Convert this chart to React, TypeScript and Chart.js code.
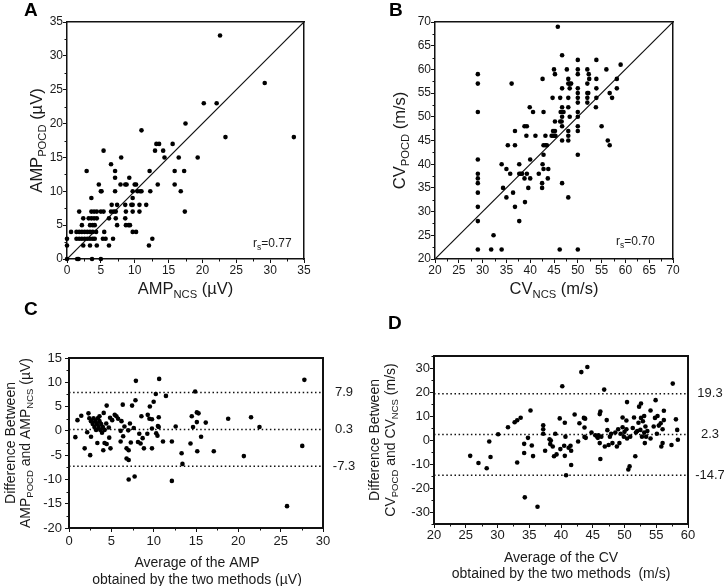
import React, { useEffect, useRef } from 'react';
import { Chart, registerables } from 'chart.js';
Chart.register(...registerables);

const FONT = '"Liberation Sans", Arial, Helvetica, sans-serif';
const W = 724;
const H = 586;

// ---------------- DATA ----------------
// Panel A: [AMP_NCS, AMP_POCD] (µV)
const ampPairs: number[][] = [
  [0, 0], [0, 2], [0, 3], [0.6, 4], [1.5, 0], [1.7, 0], [3.7, 0], [5.0, 0],
  [2.4, 2], [3.4, 2], [4.4, 2], [6.2, 2], [12.1, 2],
  [1.4, 3], [1.8, 3], [2.2, 3], [2.6, 3], [3.0, 3], [3.4, 3], [3.8, 3], [4.1, 3], [5.3, 3], [5.7, 3], [6.8, 3], [12.6, 3],
  [1.4, 4], [1.8, 4], [2.2, 4], [2.6, 4], [3.0, 4], [3.4, 4], [3.8, 4], [4.3, 4], [5.5, 4], [9.7, 4], [10.2, 4],
  [2.2, 5], [3.4, 5], [3.8, 5], [4.1, 5], [7.4, 5], [8.7, 5], [9.1, 5], [9.3, 5],
  [2.4, 6], [3.2, 6], [3.6, 6], [4.0, 6], [4.4, 6], [6.2, 6], [7.2, 6], [8.6, 6],
  [1.8, 7], [3.6, 7], [4.0, 7], [4.4, 7], [5.0, 7], [5.4, 7], [6.5, 7], [6.9, 7], [7.2, 7], [8.7, 7], [9.7, 7], [10.7, 7], [17.4, 7],
  [6.6, 8], [7.4, 8], [8.6, 8], [9.5, 8], [9.7, 8], [10.7, 8], [11.7, 8],
  [3.6, 9], [9.7, 9],
  [5.0, 10], [5.1, 10], [7.1, 10], [9.7, 10], [10.4, 10], [10.8, 10], [11.0, 10], [12.3, 10], [16.8, 10],
  [4.7, 11], [7.9, 11], [8.6, 11], [8.8, 11], [10.0, 11], [10.2, 11], [13.4, 11], [15.9, 11],
  [7.1, 12], [9.2, 12],
  [2.9, 13], [7.1, 13], [12.2, 13], [15.9, 13], [17.3, 13],
  [6.5, 14],
  [8.0, 15], [14.4, 15], [16.5, 15], [19.3, 15],
  [5.4, 16], [13.0, 16], [14.2, 16],
  [13.2, 17], [13.6, 17], [15.6, 17],
  [23.4, 18], [33.5, 18], [11.0, 19], [17.5, 20], [20.2, 23], [22.1, 23], [29.2, 26], [22.6, 33],
];

// Panel B: [CV_NCS, CV_POCD] (m/s)
const cvPairs: number[][] = [
  [29, 59], [29, 57], [29, 51], [29, 41], [29, 38], [29, 37], [29, 36], [29, 34], [29, 31], [29, 28], [29, 22],
  [31.8, 22], [32.3, 25], [34, 22], [34, 40], [34.3, 35], [35, 33], [35, 39], [35.3, 44], [35.8, 38], [36.1, 57],
  [36.4, 34], [36.8, 31], [36.8, 47], [36.8, 44], [37.7, 40], [37.7, 38], [38, 38], [38.3, 38], [37.7, 28],
  [38.8, 37], [38.9, 32], [38.8, 48], [39.3, 48], [39.2, 46], [39.3, 38], [39.6, 35], [40, 41], [40, 37],
  [39.9, 52], [40.6, 51], [41.1, 46], [41.8, 38], [42.5, 36], [42.5, 35], [42.6, 40], [42.8, 39], [42.6, 58],
  [42.8, 51], [42.8, 42], [42.8, 44], [43.2, 44], [43.5, 44], [43.2, 46], [43.8, 39], [43.7, 37], [44.5, 46],
  [44.8, 46], [45.1, 46], [44.7, 54], [44.8, 47], [45.2, 47], [45, 60], [45.2, 59], [45.2, 49], [45.3, 46],
  [45.8, 69], [46.3, 54], [46.2, 22], [46.3, 49], [46.6, 49], [46.4, 51], [46.7, 51], [46.7, 52], [46.7, 63],
  [46.7, 56], [46.7, 50], [46.7, 48], [46.7, 45], [46.7, 36], [47, 51], [47.7, 60], [48, 58], [48, 57],
  [48.3, 57], [48.6, 57], [48, 54], [48, 52], [48.3, 50], [48, 47], [48, 46], [48, 45], [48, 33], [48.3, 56],
  [50, 62], [50, 60], [50, 59], [50, 56], [50, 55], [50, 54], [50, 53], [50, 51], [50, 50], [50, 48], [50, 47],
  [50, 42], [50, 22],
  [52, 60], [52.3, 59], [52.4, 58], [52, 57], [52, 55], [52.2, 55], [52, 54], [52, 53],
  [53.9, 62], [53.9, 58], [53.9, 56], [53.9, 54], [53.8, 52], [55, 48], [56, 60], [56.3, 45], [56.7, 55],
  [56.7, 44], [57.2, 54], [58.2, 58], [58.2, 56], [59, 61],
];

// Panel C: [average AMP, difference AMP] (µV)
const ampBland: number[][] = [
  [0.75, -1.3], [1.0, 2.2], [1.45, 3.1], [1.85, -3.6], [2.15, -0.3], [2.3, 3.6], [2.5, -5.0], [2.6, -1.2],
  [2.4, 2.6], [2.6, 2.0], [2.8, 1.4], [3.0, 0.8], [3.2, 0.2],
  [2.9, 2.6], [3.1, 2.0], [3.3, 1.4], [3.5, 0.8], [3.7, 0.2], [3.9, -0.4],
  [3.4, 2.6], [3.6, 2.0], [3.8, 1.4], [4.0, 0.8], [4.2, 0.2],
  [3.35, -2.5], [3.6, 3.0], [4.1, 3.7], [4.45, 5.2], [4.4, 1.5], [4.2, -2.5], [4.05, -4.0], [4.7, 0.7],
  [4.45, -2.7], [4.75, -1.4], [4.9, -3.6], [4.85, 2.7], [5.1, 2.2], [5.4, 3.3], [5.6, 3.0], [5.8, 2.5],
  [6.35, 5.4], [6.2, 2.0], [6.1, 0.0], [6.1, -2.2], [6.55, 0.9], [6.4, -1.1], [6.8, -3.6], [7.05, -4.0],
  [6.8, -5.7], [7.05, -6.0], [7.05, -10.0], [7.0, 0.1], [7.2, 1.5], [7.45, 5.2], [7.85, 6.3], [7.9, 10.3],
  [7.75, -9.4], [7.3, -2.4], [7.65, 0.6], [8.15, -2.3], [8.55, 3.0], [8.3, -0.6], [8.45, -2.6], [8.7, -1.5],
  [8.85, -3.6], [9.25, -0.6], [9.3, 3.3], [9.55, 5.0], [9.5, 2.5], [9.8, 2.4], [9.8, 0.5], [9.8, -3.6],
  [10.0, 6.0], [10.25, 7.6], [10.3, -0.5], [10.45, -1.0], [10.6, 2.8], [10.65, 10.7], [10.5, 1.0], [10.6, 0.8],
  [11.1, -2.2], [11.45, 7.2], [12.15, -2.2], [12.6, 0.9], [12.15, -10.3], [13.3, -4.6], [13.4, -6.8],
  [14.35, -2.6], [14.5, 3.0], [14.65, 0.8], [14.9, 8.1], [15.1, 3.8], [15.3, 3.6], [15.1, 1.8], [15.15, -4.2],
  [15.6, -1.2], [16.15, 1.7], [17.1, -4.2], [18.8, 2.5], [20.65, -5.2], [21.5, 2.8], [22.5, 0.8],
  [25.75, -15.5], [27.55, -3.1], [27.8, 10.5],
];

// Panel D: [average CV, difference CV] (m/s)
const cvBland: number[][] = [
  [25.7, -6.6], [27.0, -9.6], [28.3, -11.8], [28.7, -0.6], [28.9, -7.1], [30.1, 2.4], [31.65, 5.3], [32.7, 7.4],
  [33.1, 8.2], [33.65, 9.3], [33.1, -9.4], [34.2, -1.6], [34.2, -5.4], [34.3, -23.9], [34.8, 0.9], [35.2, 12.3],
  [35.4, -2.3], [35.6, -6.7], [36.3, -27.8], [37.2, 2.6], [37.2, 4.5], [37.2, 6.1], [37.5, -4.5], [38.2, 0.3],
  [38.4, -0.2], [38.3, -1.7], [38.7, -2.7], [38.9, -6.8], [39.3, -6.0], [39.1, 2.6], [39.8, 9.0], [39.9, -3.8],
  [40.2, 22.4], [40.5, -2.4], [40.6, -6.6], [40.6, 7.2], [40.7, 1.4], [40.8, -14.7], [41.2, -3.2], [41.5, -2.4],
  [41.6, -4.5], [41.6, -10.4], [42.15, 10.6], [42.7, -0.6], [42.9, 7.0], [43.2, 28.3], [43.6, 9.2], [43.8, 8.9],
  [43.7, 5.2], [43.7, 1.3], [43.9, 0.9], [44.15, 30.4], [44.8, 3.1], [45.4, 2.0], [45.7, 1.4], [45.8, 0.9],
  [45.9, 2.0], [46.1, 10.8], [46.2, 11.9], [46.1, -1.3], [46.2, -7.9], [46.35, 1.4], [46.8, 21.0], [46.9, -2.7],
  [47.2, 8.3], [47.3, 4.1], [47.5, -2.1], [47.7, 1.4], [47.9, 2.6], [48.1, -1.3], [48.55, 3.1], [48.8, -2.7],
  [49.0, 4.5], [49.2, -1.3], [49.4, 2.6], [49.7, 5.3], [49.7, 9.4], [49.9, 1.4], [50.0, 3.4], [50.3, 4.5],
  [50.4, 15.8], [50.3, 8.1], [50.4, 0.6], [50.6, -12.3], [50.8, -11.0], [50.9, 1.4], [51.3, 5.0], [51.5, 9.4],
  [51.7, -6.8], [51.8, 3.1], [52.0, 3.7], [52.2, 7.2], [52.3, 13.9], [52.6, 15.2], [52.5, 4.2], [52.6, 9.2],
  [52.75, 1.4], [52.9, 7.8], [53.1, 3.1], [53.1, 10.0], [53.2, -1.3], [53.3, 5.6], [53.4, 1.4], [53.6, 3.7],
  [54.1, 0.6], [54.1, 12.3], [54.6, 5.6], [54.8, 9.2], [54.9, 16.6], [55.1, 2.6], [55.2, 10.0], [55.4, 6.0],
  [55.7, 7.0], [55.8, -2.7], [56.0, -1.3], [56.0, 4.5], [56.2, 12.2], [56.2, 8.3], [57.4, -2.1], [57.6, 23.5],
  [58.1, 8.6], [58.3, 4.2], [58.4, 0.1],
];

const ampTicks = [0, 5, 10, 15, 20, 25, 30, 35];
const cvTicks = [20, 25, 30, 35, 40, 45, 50, 55, 60, 65, 70];
const ampAvgTicks = [0, 5, 10, 15, 20, 25, 30];
const ampDiffTicks = [-20, -15, -10, -5, 0, 5, 10, 15];
const cvAvgTicks = [20, 25, 30, 35, 40, 45, 50, 55, 60];
const cvDiffTicks = [-30, -20, -10, 0, 10, 20, 30];
const ampLimits = [7.9, 0.3, -7.3];
const cvLimits = [19.3, 2.3, -14.7];
const rsAmp = '0.77';
const rsCv = '0.70';

// ---------------- LAYOUT ----------------
type Seg = [string, boolean?];
interface Panel {
  pts: number[][];
  xr: [number, number];
  yr: [number, number];
  xt: number[];
  yt: number[];
  area: [number, number, number, number];
  tickSize: number;
  yPad: number;
  xPad: number;
  frameW: number;
  letter: string;
  letterAt: [number, number];
  xTitle: Seg[][];
  xTitleAt: [number, number[]];
  yTitle: Seg[][];
  yTitleAt: [number, number[]];
  titleSize: number;
  identity?: boolean;
  limits?: number[];
  limitX?: number;
  rs?: string;
  rsAt?: [number, number];
}

const panels: Panel[] = [
  {
    pts: ampPairs, xr: [0, 35], yr: [0, 35], xt: ampTicks, yt: ampTicks,
    area: [67, 22, 304, 259], tickSize: 12, yPad: 0, xPad: 0, frameW: 1.5,
    letter: 'A', letterAt: [24, 16],
    xTitle: [[['AMP'], ['NCS', true], [' (µV)']]], xTitleAt: [185.5, [294]],
    yTitle: [[['AMP'], ['POCD', true], [' (µV)']]], yTitleAt: [140.5, [42]],
    titleSize: 16.5, identity: true, rs: rsAmp, rsAt: [253, 246.5],
  },
  {
    pts: cvPairs, xr: [20, 70], yr: [20, 70], xt: cvTicks, yt: cvTicks,
    area: [435, 22, 673, 259], tickSize: 12, yPad: 0, xPad: 0, frameW: 1.5,
    letter: 'B', letterAt: [389, 16],
    xTitle: [[['CV'], ['NCS', true], [' (m/s)']]], xTitleAt: [554, [294]],
    yTitle: [[['CV'], ['POCD', true], [' (m/s)']]], yTitleAt: [140.5, [405]],
    titleSize: 16.5, identity: true, rs: rsCv, rsAt: [616, 244.5],
  },
  {
    pts: ampBland, xr: [0, 30], yr: [-20, 15], xt: ampAvgTicks, yt: ampDiffTicks,
    area: [69, 358, 323, 528], tickSize: 13, yPad: 3, xPad: 2, frameW: 2,
    letter: 'C', letterAt: [24, 315],
    xTitle: [[['Average of the AMP']], [['obtained by the two methods (µV)']]], xTitleAt: [197, [567, 584]],
    yTitle: [[['Difference Between']], [['AMP'], ['POCD', true], [' and AMP'], ['NCS', true], [' (µV)']]],
    yTitleAt: [443, [14.5, 30]],
    titleSize: 14, limits: ampLimits, limitX: 344,
  },
  {
    pts: cvBland, xr: [20, 60], yr: [-35, 35], xt: cvAvgTicks, yt: cvDiffTicks,
    area: [434, 356, 688, 524], tickSize: 13, yPad: 0, xPad: 0, frameW: 2,
    letter: 'D', letterAt: [388, 329],
    xTitle: [[['Average of the CV']], [['obtained by the two methods  (m/s)']]], xTitleAt: [561, [562, 578]],
    yTitle: [[['Difference Between']], [['CV'], ['POCD', true], [' and CV'], ['NCS', true], [' (m/s)']]],
    yTitleAt: [440, [379, 395]],
    titleSize: 14, limits: cvLimits, limitX: 710,
  },
];

const TEXT = '#1a1a1a';
const LINE = '#111';

function drawRich(ctx: CanvasRenderingContext2D, segs: Seg[], x: number, y: number, size: number) {
  let w = 0;
  for (const [t, sub] of segs) {
    ctx.font = `${sub ? size * 0.68 : size}px ${FONT}`;
    w += ctx.measureText(t).width;
  }
  let cx = x - w / 2;
  ctx.textAlign = 'left';
  ctx.textBaseline = 'alphabetic';
  for (const [t, sub] of segs) {
    ctx.font = `${sub ? size * 0.68 : size}px ${FONT}`;
    ctx.fillText(t, cx, sub ? y + size * 0.24 : y);
    cx += ctx.measureText(t).width;
  }
}

function makeChart(canvas: HTMLCanvasElement, p: Panel) {
  const [L, T, R, B] = p.area;
  const YW = 40;
  const XH = 30;
  const datasets: any[] = [
    {
      data: p.pts.map(([x, y]) => ({ x, y })),
      pointRadius: 2.3,
      pointBackgroundColor: '#000',
      pointBorderColor: '#000',
      pointBorderWidth: 0,
      showLine: false,
      clip: false,
    },
  ];
  if (p.identity) {
    datasets.push({
      data: [{ x: p.xr[0], y: p.yr[0] }, { x: p.xr[1], y: p.yr[1] }],
      showLine: true, pointRadius: 0, borderColor: LINE, borderWidth: 1.2, fill: false,
    });
  }
  if (p.limits) {
    for (const v of p.limits) {
      datasets.push({
        data: [{ x: p.xr[0], y: v }, { x: p.xr[1], y: v }],
        showLine: true, pointRadius: 0, borderColor: LINE, borderWidth: 1.5,
        borderDash: [1.5, 2.6], fill: false,
      });
    }
  }

  const deco = {
    id: 'deco',
    afterDraw(chart: any) {
      const ctx: CanvasRenderingContext2D = chart.ctx;
      const a = chart.chartArea;
      const xs = chart.scales.x;
      const ys = chart.scales.y;
      ctx.save();
      ctx.globalAlpha = 1;
      ctx.setLineDash([]);
      ctx.strokeStyle = LINE;
      ctx.lineWidth = 1;
      // minor ticks (half steps)
      const xStep = p.xt[1] - p.xt[0];
      for (let v = p.xr[0] + xStep / 2; v < p.xr[1]; v += xStep) {
        const px = Math.round(xs.getPixelForValue(v)) + 0.5;
        ctx.beginPath();
        ctx.moveTo(px, a.bottom);
        ctx.lineTo(px, a.bottom + 2.5);
        ctx.stroke();
      }
      const yStep = p.yt[1] - p.yt[0];
      for (let v = p.yt[0] - yStep / 2; v <= p.yr[1]; v += yStep) {
        if (v < p.yr[0]) continue;
        const py = Math.round(ys.getPixelForValue(v)) + 0.5;
        ctx.beginPath();
        ctx.moveTo(a.left, py);
        ctx.lineTo(a.left - 2.5, py);
        ctx.stroke();
      }
      ctx.fillStyle = '#000';
      ctx.font = `bold 19px ${FONT}`;
      ctx.textAlign = 'left';
      ctx.textBaseline = 'alphabetic';
      ctx.fillText(p.letter, p.letterAt[0], p.letterAt[1]);

      ctx.fillStyle = TEXT;
      p.xTitle.forEach((segs, i) => drawRich(ctx, segs, p.xTitleAt[0], p.xTitleAt[1][i], p.titleSize));
      p.yTitle.forEach((segs, i) => {
        ctx.save();
        ctx.translate(p.yTitleAt[1][i], p.yTitleAt[0]);
        ctx.rotate(-Math.PI / 2);
        drawRich(ctx, segs, 0, 0, p.titleSize);
        ctx.restore();
      });
      if (p.rs && p.rsAt) {
        ctx.textAlign = 'left';
        ctx.textBaseline = 'alphabetic';
        let x = p.rsAt[0];
        const y = p.rsAt[1];
        ctx.font = `12px ${FONT}`;
        ctx.fillText('r', x, y);
        x += ctx.measureText('r').width;
        ctx.font = `8.5px ${FONT}`;
        ctx.fillText('s', x, y + 3);
        x += ctx.measureText('s').width;
        ctx.font = `12px ${FONT}`;
        ctx.fillText('=' + p.rs, x, y);
      }
      if (p.limits && p.limitX) {
        ctx.font = `13px ${FONT}`;
        ctx.textAlign = 'center';
        ctx.textBaseline = 'middle';
        for (const v of p.limits) {
          ctx.fillText(String(v), p.limitX, ys.getPixelForValue(v));
        }
      }
      ctx.restore();
    },
  };

  const tickGrid = { display: true, drawOnChartArea: false, drawTicks: true, tickLength: 4, color: LINE, lineWidth: 1 };
  const frameBorder = { display: true, color: LINE, width: p.frameW };

  return new Chart(canvas, {
    type: 'scatter',
    data: { datasets },
    options: {
      responsive: false,
      maintainAspectRatio: false,
      animation: false,
      devicePixelRatio: 1,
      layout: { padding: { left: L - YW, top: T, right: W - R, bottom: H - B - XH } },
      plugins: { legend: { display: false }, tooltip: { enabled: false } },
      scales: {
        x: {
          type: 'linear', position: 'bottom', min: p.xr[0], max: p.xr[1],
          afterFit: (s: any) => { s.height = XH; },
          afterBuildTicks: (s: any) => { s.ticks = p.xt.map((v) => ({ value: v })); },
          grid: tickGrid, border: frameBorder,
          ticks: {
            autoSkip: false, maxRotation: 0, minRotation: 0, padding: p.xPad, color: TEXT,
            font: { family: FONT, size: p.tickSize },
            callback: (v: any) => String(v),
          },
        },
        y: {
          type: 'linear', position: 'left', min: p.yr[0], max: p.yr[1],
          afterFit: (s: any) => { s.width = YW; },
          afterBuildTicks: (s: any) => { s.ticks = p.yt.map((v) => ({ value: v })); },
          grid: tickGrid, border: frameBorder,
          ticks: {
            autoSkip: false, padding: p.yPad, color: TEXT,
            font: { family: FONT, size: p.tickSize },
            callback: (v: any) => String(v),
          },
        },
        xTop: {
          type: 'linear', position: 'top', min: p.xr[0], max: p.xr[1],
          afterFit: (s: any) => { s.height = 0; },
          grid: { display: false, drawTicks: false }, border: frameBorder,
          ticks: { display: false },
        },
        yRight: {
          type: 'linear', position: 'right', min: p.yr[0], max: p.yr[1],
          afterFit: (s: any) => { s.width = 0; },
          grid: { display: false, drawTicks: false }, border: frameBorder,
          ticks: { display: false },
        },
      },
    } as any,
    plugins: [deco],
  });
}

export default function App() {
  const refs = useRef<(HTMLCanvasElement | null)[]>([]);
  useEffect(() => {
    const charts = panels.map((p, i) => makeChart(refs.current[i] as HTMLCanvasElement, p));
    return () => charts.forEach((c) => c.destroy());
  }, []);
  return (
    <div style={{ position: 'absolute', left: 0, top: 0, width: W, height: H, background: '#fff', overflow: 'hidden' }}>
      {panels.map((p, i) => (
        <canvas
          key={p.letter}
          ref={(el) => { refs.current[i] = el; }}
          width={W}
          height={H}
          style={{ position: 'absolute', left: 0, top: 0 }}
        />
      ))}
    </div>
  );
}
